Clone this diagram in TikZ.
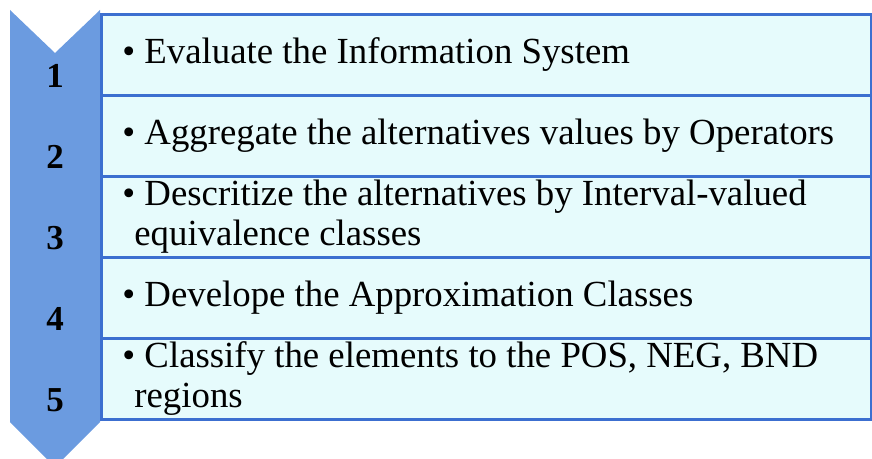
\documentclass[tikz,border=0pt]{standalone}
\usepackage{fontspec}
\setmainfont{Liberation Serif}
\usetikzlibrary{positioning}

\definecolor{chevblue}{HTML}{6B9BE0}
\definecolor{boxfill}{HTML}{E6FBFC}
\definecolor{boxline}{HTML}{3C6FD0}

\begin{document}
\begin{tikzpicture}[
    x=0.5pt, y=-0.5pt,
    stepbox/.style={draw=boxline, line width=1.3pt, fill=boxfill, anchor=north west,
        minimum width=385pt, minimum height=40.5pt, inner sep=0pt},
    steptext/.style={anchor=west, align=left, inner sep=0pt,
        font=\fontsize{18.4}{20}\selectfont},
    stepnum/.style={font=\fontsize{17.5}{20}\selectfont\bfseries, inner sep=0pt},
]

\useasboundingbox (0,0) rectangle (872,459);

% --- Chevron running down the left side ---
\fill[chevblue] (10,10) -- (55,53) -- (100,10) -- (100,422) -- (55,467) -- (10,422) -- cycle;

% --- Steps: box, bullet text and number ---
\foreach \n/\txt in {
    1/{Evaluate the Information System},
    2/{Aggregate the alternatives values by Operators},
    3/{Descritize the alternatives by Interval-valued\\\hspace*{6pt}equivalence classes},
    4/{Develope the Approximation Classes},
    5/{Classify the elements to the  POS, NEG, BND\\\hspace*{6pt}regions}} {
    \node[stepbox] (step\n) at (100, {81*\n-68}) {};
    \node[steptext, right=11pt of step\n.west] (text\n) {\textbullet\ \txt};
    \node[stepnum] (num\n) at (55, {81*\n-5}) {\n};
}

\end{tikzpicture}
\end{document}
